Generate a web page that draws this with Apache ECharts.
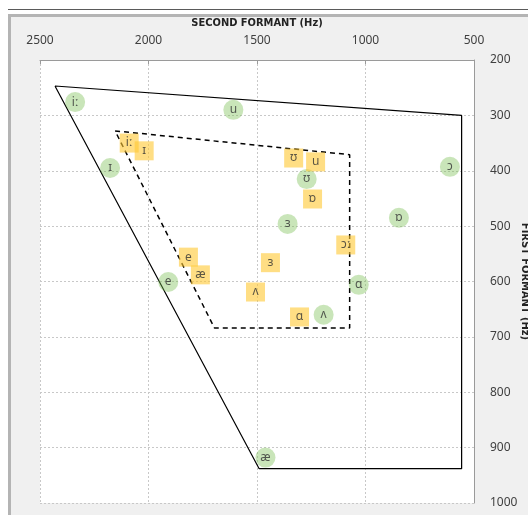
<!DOCTYPE html>
<html>
<head>
<meta charset="utf-8">
<script src="https://cdn.jsdelivr.net/npm/echarts@6/dist/echarts.min.js"></script>
<style>
html, body { margin: 0; padding: 0; background: #fff; }
#main { width: 528px; height: 515px; }
</style>
</head>
<body>
<div id="main"></div>
<script>
// vowel data, F2 (Hz) on x, F1 (Hz) on y
var greenLabels = ['iː', 'u', 'ɪ', 'ʊ', 'ɔ', 'ɒ', 'ɜ', 'e', 'ɑ', 'ʌ', 'æ'];
var greenF2 = [2338, 1609, 2177, 1271, 611, 846, 1359, 1909, 1031, 1193, 1461];
var greenF1 = [276, 290, 395, 415, 393, 485, 496, 601, 606, 660, 918];

var yellowLabels = ['iː', 'ɪ', 'ʊ', 'u', 'ɒ', 'ɔː', 'e', 'æ', 'ɜ', 'ʌ', 'ɑ'];
var yellowF2 = [2089, 2020, 1331, 1230, 1244, 1091, 1816, 1761, 1438, 1507, 1304];
var yellowF1 = [350, 364, 377, 384, 451, 534, 556, 588, 566, 619, 664];

// outline of the vowel spaces
var outerF2 = [2431, 557, 557, 1490, 2431];
var outerF1 = [247, 300, 938, 938, 247];
var innerF2 = [2154, 1073, 1073, 1696, 2154];
var innerF1 = [328, 371, 684, 684, 328];

var xTitle = 'SECOND FORMANT (Hz)';
var yTitle = 'FIRST FORMANT (Hz)';

function pairs(xs, ys) {
    var out = [];
    for (var i = 0; i < xs.length; i++) {
        out.push([xs[i], ys[i]]);
    }
    return out;
}

function labelled(xs, ys, names) {
    var out = [];
    for (var i = 0; i < xs.length; i++) {
        out.push({ value: [xs[i], ys[i]], name: names[i] });
    }
    return out;
}

var chartDom = document.getElementById('main');
var myChart = echarts.init(chartDom);
var option;

var titleFont = "'Liberation Sans Narrow', 'DejaVu Sans Condensed', 'Liberation Sans', sans-serif";
var tickFont = { color: '#404040', fontSize: 12, fontFamily: 'Noto Sans', formatter: function (v) { return String(v); } };
var symLabel = {
    show: true,
    position: 'inside',
    formatter: '{b}',
    color: '#333',
    fontSize: 12,
    fontFamily: 'Noto Sans'
};

option = {
    animation: false,
    backgroundColor: '#ffffff',
    graphic: [
        { type: 'line', z: -10, shape: { x1: 8, y1: 9.5, x2: 528, y2: 9.5 }, style: { stroke: '#5a5a5a', lineWidth: 1 } },
        { type: 'rect', z: -10, shape: { x: 9.5, y: 15.5, width: 530, height: 510 }, style: { fill: '#f0f0f0', stroke: '#b4b4b4', lineWidth: 3 } }
    ],
    grid: {
        left: 40,
        right: 54,
        top: 60,
        bottom: 12,
        outerBoundsMode: 'none',
        containLabel: false,
        show: true,
        backgroundColor: '#ffffff',
        borderWidth: 0
    },
    xAxis: {
        type: 'value',
        position: 'top',
        inverse: true,
        min: 500,
        max: 2500,
        interval: 500,
        name: xTitle,
        nameLocation: 'middle',
        nameGap: 31,
        nameMoveOverlap: false,
        nameTextStyle: { fontFamily: titleFont, fontWeight: 'bold', fontSize: 11, color: '#222' },
        axisLine: { show: true, lineStyle: { color: '#9a9a9a', width: 1 } },
        axisTick: { show: true, inside: true, length: 4, lineStyle: { color: '#9a9a9a' } },
        axisLabel: Object.assign({ margin: 13 }, tickFont),
        splitLine: { show: true, lineStyle: { color: '#c8c8c8', type: [2, 2] } }
    },
    yAxis: {
        type: 'value',
        position: 'right',
        inverse: true,
        min: 200,
        max: 1000,
        interval: 100,
        name: yTitle,
        nameLocation: 'middle',
        nameRotate: -90,
        nameGap: 45,
        nameMoveOverlap: false,
        nameTextStyle: { fontFamily: titleFont, fontWeight: 'bold', fontSize: 11, color: '#222' },
        axisLine: { show: true, lineStyle: { color: '#9a9a9a', width: 1 } },
        axisTick: { show: false },
        axisLabel: Object.assign({ margin: 16, align: 'left' }, tickFont),
        splitLine: { show: true, lineStyle: { color: '#c8c8c8', type: [2, 2] } }
    },
    series: [
        {
            name: 'outer',
            type: 'line',
            data: pairs(outerF2, outerF1),
            showSymbol: false,
            lineStyle: { color: '#000', width: 1.2 },
            z: 1
        },
        {
            name: 'inner',
            type: 'line',
            data: pairs(innerF2, innerF1),
            showSymbol: false,
            lineStyle: { color: '#000', width: 1.5, type: [5, 4] },
            z: 1
        },
        {
            name: 'green',
            type: 'scatter',
            symbol: 'circle',
            symbolSize: 20,
            data: labelled(greenF2, greenF1, greenLabels),
            itemStyle: { color: 'rgba(120,190,80,0.5)' },
            label: symLabel,
            z: 3
        },
        {
            name: 'yellow',
            type: 'scatter',
            symbol: 'rect',
            symbolSize: 19,
            data: labelled(yellowF2, yellowF1, yellowLabels),
            itemStyle: { color: 'rgba(255,200,50,0.75)' },
            label: symLabel,
            z: 4
        }
    ]
};
option && myChart.setOption(option);
</script>
</body>
</html>
